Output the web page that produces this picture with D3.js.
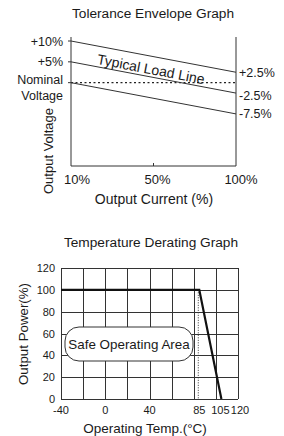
<!DOCTYPE html>
<meta charset="utf-8">
<style>
body { margin: 0; background: #fff; }
svg { display: block; }
text {
  font-family: "Liberation Sans", Arial, Helvetica, sans-serif;
  fill: #1a1a1a;
}
.frame, .grid line { stroke: #333; stroke-width: 1; fill: none; }
.env { stroke: #333; stroke-width: 1; fill: none; }
</style>
<svg width="284" height="436"></svg>
<script src="https://cdn.jsdelivr.net/npm/d3@7"></script>
<script>

// ---- tolerance envelope data
var loadCats = ["10%", "50%", "100%"];
var upperLine = [10, 2.5];
var typicalLine = [5, -2.5];
var lowerLine = [0, -7.5];
var leftTicks = [10, 5, 0];
var leftLabels = ["+10%", "+5%"];
var rightLabels = ["+2.5%", "-2.5%", "-7.5%"];

// ---- derating data
var derateTemp = [-40, 85, 105];
var deratePower = [100, 100, 0];
var tempTicks = [-40, 0, 40, 85, 105, 120];
var powerTicks = [0, 20, 40, 60, 80, 100, 120];
var gridTemps = [-40, -20, 0, 20, 40, 60, 80, 100, 120];

var svg = d3.select("svg");

// ================= Tolerance Envelope Graph
var x1 = d3.scalePoint().domain(loadCats).range([71, 236]);
var y1 = d3.scaleLinear().domain([-20, 10]).range([166, 41]);

var g1 = svg.append("g");

g1.append("text")
    .attr("x", 153).attr("y", 18)
    .attr("text-anchor", "middle")
    .style("font-size", "13.7px")
    .text("Tolerance Envelope Graph");

// frame: left, bottom, right (no top)
g1.append("path")
    .attr("class", "frame")
    .attr("d", "M" + x1("10%") + "," + (y1(10) - 4) + "V" + y1(-20) + "H" + x1("100%") + "V" + (y1(10) - 4));

// small ticks on left
g1.selectAll(".ltick").data(leftTicks).enter().append("line")
    .attr("class", "frame")
    .attr("x1", x1("10%") - 3).attr("x2", x1("10%"))
    .attr("y1", function(d) { return y1(d); })
    .attr("y2", function(d) { return y1(d); });

// middle tick on bottom
g1.append("line").attr("class", "frame")
    .attr("x1", x1("50%")).attr("x2", x1("50%"))
    .attr("y1", y1(-20)).attr("y2", y1(-20) - 3);

// nominal dotted line
g1.append("line")
    .attr("x1", x1("10%")).attr("x2", x1("100%"))
    .attr("y1", y1(0)).attr("y2", y1(0))
    .style("stroke", "#222").style("stroke-width", 1.2)
    .style("stroke-dasharray", "2,2.5");

var envLines = [upperLine, typicalLine, lowerLine];
var xEnds = [loadCats[0], loadCats[loadCats.length - 1]];
var line1 = d3.line()
    .x(function(d, i) { return x1(xEnds[i]); })
    .y(function(d) { return y1(d); });

g1.selectAll(".env").data(envLines).enter().append("path")
    .attr("class", "env")
    .attr("d", line1);

// left labels
g1.selectAll(".llab").data(leftLabels).enter().append("text")
    .attr("x", 63)
    .attr("y", function(d, i) { return y1(leftTicks[i]) + 4.5; })
    .attr("text-anchor", "end")
    .style("font-size", "12.5px")
    .text(function(d) { return d; });

g1.append("text").attr("x", 63).attr("y", y1(0) + 1.5)
    .attr("text-anchor", "end").style("font-size", "12.5px").text("Nominal");
g1.append("text").attr("x", 63).attr("y", y1(0) + 17.5)
    .attr("text-anchor", "end").style("font-size", "12.5px").text("Voltage");

// right labels
var rightVals = envLines.map(function(d) { return d[1]; });
g1.selectAll(".rlab").data(rightLabels).enter().append("text")
    .attr("x", 239)
    .attr("y", function(d, i) { return y1(rightVals[i]) + 4.5 + (i === 1 ? 2 : 0); })
    .style("font-size", "12.5px")
    .text(function(d) { return d; });

// typical load line label, parallel to the lines
var ang = Math.atan2(y1(upperLine[1]) - y1(upperLine[0]), x1("100%") - x1("10%")) * 180 / Math.PI;
g1.append("text")
    .attr("transform", "translate(150,74) rotate(" + ang + ")")
    .attr("text-anchor", "middle")
    .style("font-size", "14px")
    .text("Typical Load Line");

// axis titles
g1.append("text")
    .attr("transform", "translate(53,151) rotate(-90)")
    .attr("text-anchor", "middle")
    .style("font-size", "13px")
    .text("Output Voltage");

g1.selectAll(".xlab").data(loadCats).enter().append("text")
    .attr("x", function(d, i) { return x1(d) + [6, 4, 5][i]; })
    .attr("y", 184)
    .attr("text-anchor", "middle")
    .style("font-size", "13px")
    .text(function(d) { return d; });

g1.append("text")
    .attr("x", 154).attr("y", 204)
    .attr("text-anchor", "middle")
    .style("font-size", "14px")
    .text("Output Current (%)");

// ================= Temperature Derating Graph
var x2 = d3.scaleLinear().domain([-40, 120]).range([61, 238]);
var y2 = d3.scaleLinear().domain([0, 120]).range([399, 268]);

var g2 = svg.append("g");

g2.append("text")
    .attr("x", 151).attr("y", 247)
    .attr("text-anchor", "middle")
    .style("font-size", "13.7px")
    .text("Temperature Derating Graph");

var grid = g2.append("g").attr("class", "grid");
grid.selectAll(".vg").data(gridTemps).enter().append("line")
    .attr("x1", function(d) { return Math.round(x2(d)) + 0.5; })
    .attr("x2", function(d) { return Math.round(x2(d)) + 0.5; })
    .attr("y1", y2(120)).attr("y2", y2(0));
grid.selectAll(".hg").data(powerTicks).enter().append("line")
    .attr("y1", function(d) { return Math.round(y2(d)) + 0.5; })
    .attr("y2", function(d) { return Math.round(y2(d)) + 0.5; })
    .attr("x1", x2(-40)).attr("x2", x2(120));

// dotted marker at 85
g2.append("line")
    .attr("x1", x2(85) - 1).attr("x2", x2(85) - 1)
    .attr("y1", y2(100)).attr("y2", y2(0))
    .style("stroke", "#333").style("stroke-width", 1)
    .style("stroke-dasharray", "1,1.5");

// safe operating area box
g2.append("rect")
    .attr("x", 65).attr("y", 327)
    .attr("width", 128).attr("height", 34)
    .attr("rx", 14).attr("ry", 14)
    .style("fill", "#fff").style("stroke", "#333").style("stroke-width", 1);
g2.append("text")
    .attr("x", 129).attr("y", 349)
    .attr("text-anchor", "middle")
    .style("font-size", "13.4px")
    .text("Safe Operating Area");

// derating curve
var line2 = d3.line()
    .x(function(d, i) { return x2(derateTemp[i]); })
    .y(function(d) { return y2(d); });
g2.append("path")
    .datum(deratePower)
    .attr("d", line2)
    .style("fill", "none").style("stroke", "#111").style("stroke-width", 2.2);

// tick labels
g2.selectAll(".yl").data(powerTicks).enter().append("text")
    .attr("x", 55)
    .attr("y", function(d) { return y2(d) + 4; })
    .attr("text-anchor", "end")
    .style("font-size", "11px")
    .text(function(d) { return d; });

g2.selectAll(".xl").data(tempTicks).enter().append("text")
    .attr("x", function(d) { return x2(d) + (d === 105 ? -1 : d === 120 ? 2 : 0); })
    .attr("y", 414)
    .attr("text-anchor", "middle")
    .style("font-size", "11px")
    .text(function(d) { return d; });

g2.append("text")
    .attr("transform", "translate(28,334) rotate(-90)")
    .attr("text-anchor", "middle")
    .style("font-size", "13.3px")
    .text("Output Power(%)");

g2.append("text")
    .attr("x", 145).attr("y", 433)
    .attr("text-anchor", "middle")
    .style("font-size", "13.5px")
    .text("Operating Temp.(\u00B0C)");

</script>
